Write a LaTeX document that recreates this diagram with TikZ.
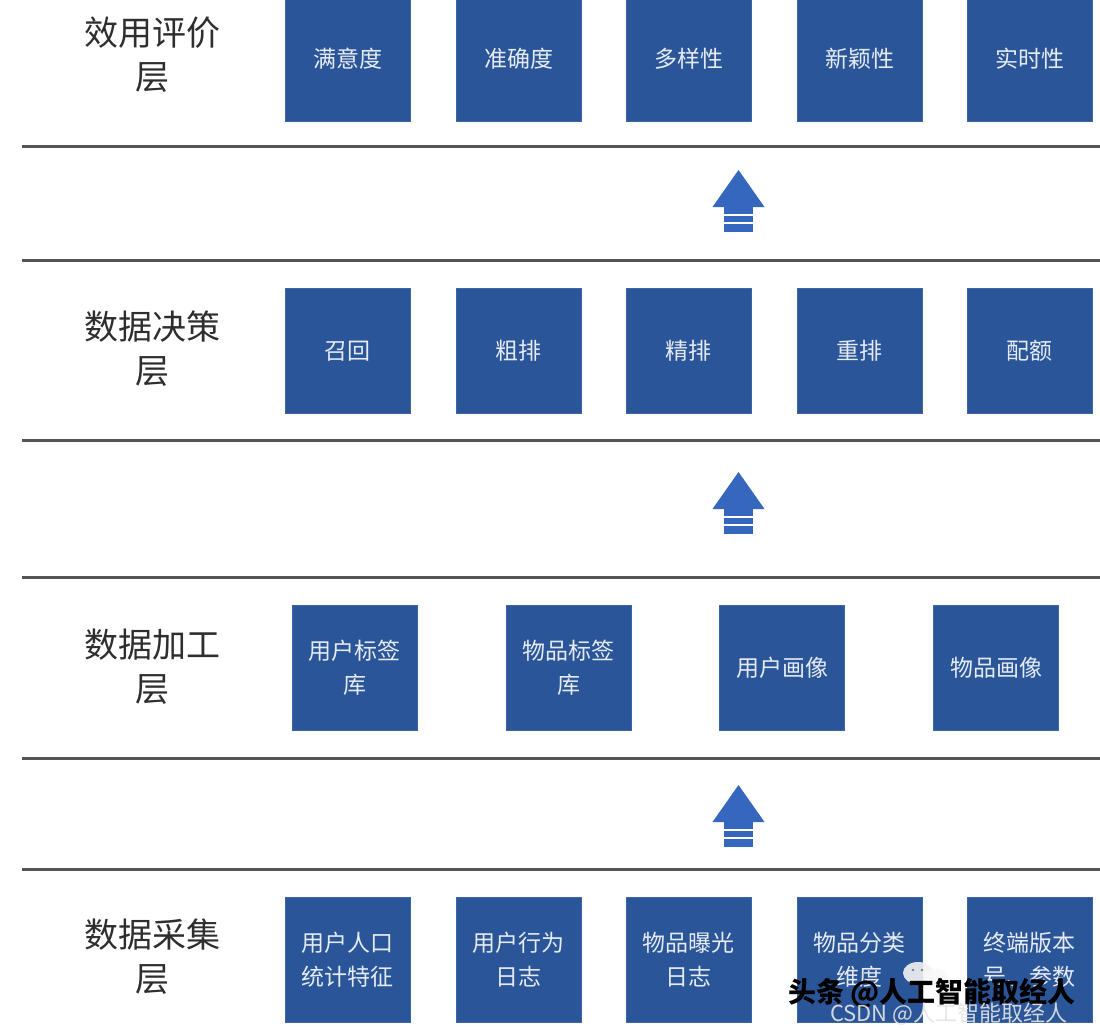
\documentclass[tikz,border=0pt]{standalone}
\usepackage{fontspec}
\setmainfont{Noto Sans CJK SC}
\definecolor{boxblue}{HTML}{2A5699}
\definecolor{boxedge}{HTML}{3C66A8}
\definecolor{boxtext}{HTML}{E6EBF3}
\definecolor{labelgray}{HTML}{2E2E2E}
\definecolor{linegray}{HTML}{555555}
\definecolor{arrowblue}{HTML}{3567BF}
\begin{document}
\begin{tikzpicture}[x=1pt,y=-1pt,
  box/.style={fill=boxblue, draw=boxedge, line width=0.8pt, minimum width=125pt,
    minimum height=125pt, inner sep=0pt, text=boxtext,
    font=\fontsize{23}{34}\selectfont, align=center},
  layer/.style={font=\fontsize{34}{44}\selectfont, text=labelgray, align=center},
  sep/.style={draw=linegray, line width=3pt},
  uparrow/.pic={
    \fill[arrowblue] (0,0) -- (26,37) -- (-26,37) -- cycle;
    \fill[arrowblue] (-14.5,37) rectangle (14.5,44.3);
    \fill[arrowblue] (-14.5,46) rectangle (14.5,52.3);
    \fill[arrowblue] (-14.5,54.3) rectangle (14.5,61.7);
  }]
\useasboundingbox (0,0) rectangle (1100,1030);
\fill[white] (0,0) rectangle (1100,1030);

% separators
\foreach \yy in {147,260,440,577,758,869}
  \draw[sep] (22,\yy) -- (1100,\yy);

% layer labels
\node[layer] (L1) at (152,55) {效用评价\\层};
\node[layer] (L2) at (152,349) {数据决策\\层};
\node[layer] (L3) at (152,667) {数据加工\\层};
\node[layer] (L4) at (152,957) {数据采集\\层};

% row 1
\node[box] (a1) at (347.5,58.5) {满意度};
\node[box] (a2) at (518.5,58.5) {准确度};
\node[box] (a3) at (688.5,58.5) {多样性};
\node[box] (a4) at (859.5,58.5) {新颖性};
\node[box] (a5) at (1029.5,58.5) {实时性};

% row 2
\node[box] (b1) at (347.5,351) {召回};
\node[box] (b2) at (518.5,351) {粗排};
\node[box] (b3) at (688.5,351) {精排};
\node[box] (b4) at (859.5,351) {重排};
\node[box] (b5) at (1029.5,351) {配额};

% row 3
\node[box] (c1) at (354.5,667.5) {用户标签\\库};
\node[box] (c2) at (568.5,667.5) {物品标签\\库};
\node[box] (c3) at (782,667.5) {用户画像};
\node[box] (c4) at (996,667.5) {物品画像};

% row 4
\node[box] (d1) at (347.5,960) {用户人口\\统计特征};
\node[box] (d2) at (518.5,960) {用户行为\\日志};
\node[box] (d3) at (688.5,960) {物品曝光\\日志};
\node[box] (d4) at (859.5,960) {物品分类\\维度};
\node[box] (d5) at (1029.5,960) {终端版本\\号、参数};

% arrows
\pic at (738.5,170) {uparrow};
\pic at (738.5,472) {uparrow};
\pic at (738.5,785) {uparrow};

% watermark icon
\fill[white!90!gray, opacity=0.9] (918,973) ellipse (15pt and 11pt);
\fill[white!95!gray, opacity=0.9] (936,978) ellipse (12pt and 9pt);
\fill[gray] (913,970) circle (1.3pt) (922,970) circle (1.3pt);

% watermark text
\node[anchor=west, inner sep=0pt, text=black, font=\fontsize{28}{28}\selectfont\bfseries]
  (wm1) at (788,993) {头条 @人工智能取经人};
\node[anchor=west, inner sep=0pt, text=white!80!gray, opacity=0.9,
  font=\fontsize{22}{22}\selectfont] (wm2) at (830,1014) {CSDN @人工智能取经人};
\end{tikzpicture}
\end{document}
